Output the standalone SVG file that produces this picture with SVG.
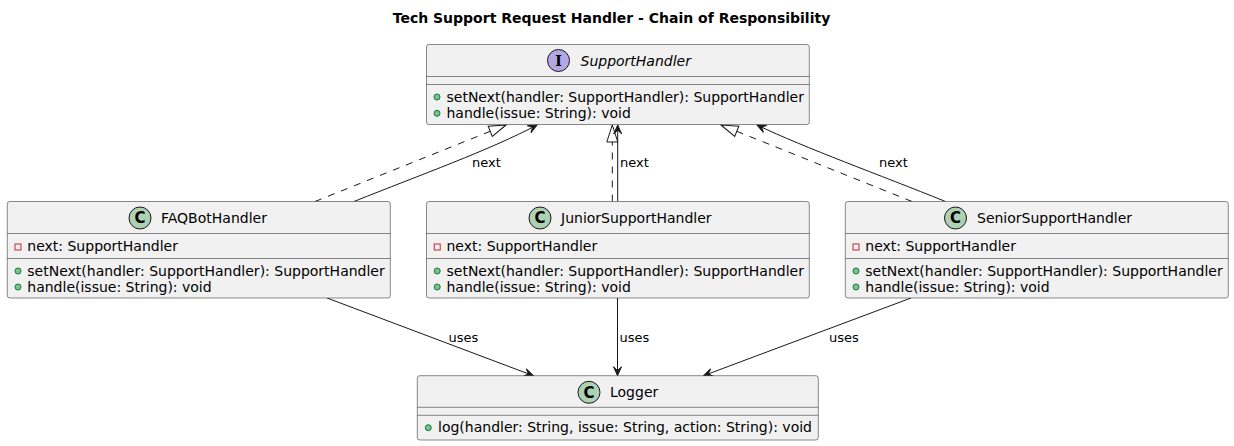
<svg xmlns="http://www.w3.org/2000/svg" width="1234" height="446" viewBox="0 0 1234 446">
<style>
.box{fill:#F1F1F1;stroke:#181818;stroke-width:0.5}
.sep{stroke:#181818;stroke-width:0.5}
text{font-family:"DejaVu Sans",sans-serif;fill:#000000}
.name{font-size:14px}
.ital{font-style:italic}
.mem{font-size:14px}
.lbl{font-size:13px}
.title{font-size:14px;font-weight:bold}
.cc{fill:#ADD1B2;stroke:#181818;stroke-width:1}
.ic{fill:#B4A7E5;stroke:#181818;stroke-width:1}
.glyph{font-size:15px;font-weight:bold;text-anchor:middle}
.pub{fill:#84BE84;stroke:#038048;stroke-width:1}
.priv{fill:none;stroke:#C82930;stroke-width:1}
.edge{fill:none;stroke:#181818;stroke-width:1}
.dash{stroke-dasharray:7,7}
</style>
<defs>
<marker id="arr" viewBox="-10 -5 11 10" refX="0" refY="0" markerWidth="11" markerHeight="10" orient="auto" markerUnits="userSpaceOnUse" overflow="visible">
<path d="M0,0 L-9,-4 L-5,0 L-9,4 Z" fill="#181818" stroke="#181818" stroke-width="1" stroke-dasharray="none"/>
</marker>
<marker id="tri" viewBox="-19 -7 20 14" refX="0" refY="0" markerWidth="20" markerHeight="14" orient="auto" markerUnits="userSpaceOnUse" overflow="visible">
<path d="M0,0 L-17,-5.5 L-17,5.5 Z" fill="#FFFFFF" stroke="#181818" stroke-width="1" stroke-dasharray="none"/>
</marker>
</defs>
<rect width="1234" height="446" fill="#FFFFFF"/>
<text class="title" x="611.5" y="23" text-anchor="middle">Tech Support Request Handler - Chain of Responsibility</text>

<g id="connectors">
<path class="edge dash" d="M315,201.5 L506,125" marker-end="url(#tri)"/>
<path class="edge" d="M354,201.5 C420,175 490,150 537,125" marker-end="url(#arr)"/>
<text class="lbl" x="472" y="167">next</text>
<path class="edge dash" d="M612.3,201.5 L612.3,125" marker-end="url(#tri)"/>
<path class="edge" d="M617.7,201.5 L617.7,125" marker-end="url(#arr)"/>
<text class="lbl" x="620" y="167">next</text>
<path class="edge dash" d="M912,201.5 L721,125" marker-end="url(#tri)"/>
<path class="edge" d="M945.5,201.5 C880,175 805,148 757,125" marker-end="url(#arr)"/>
<text class="lbl" x="879" y="167">next</text>
<path class="edge" d="M327,298 L533.3,375.7" marker-end="url(#arr)"/>
<text class="lbl" x="448.5" y="342">uses</text>
<path class="edge" d="M617.5,298 L617.5,375.7" marker-end="url(#arr)"/>
<text class="lbl" x="619.5" y="342">uses</text>
<path class="edge" d="M911,298 L703.5,375.7" marker-end="url(#arr)"/>
<text class="lbl" x="829" y="342">uses</text>
</g>

<g id="SupportHandler">
<rect class="box" x="426.5" y="44.5" width="382.8" height="80" rx="2.5"/>
<circle class="ic" cx="558.5" cy="60.5" r="11"/>
<text x="558.5" y="65.5" font-family="DejaVu Serif" style="font-family:'DejaVu Serif',serif;font-size:14px;font-weight:bold;text-anchor:middle">I</text>
<text class="name ital" x="580.5" y="65.5">SupportHandler</text>
<line class="sep" x1="426.5" y1="76.5" x2="809.3" y2="76.5"/>
<line class="sep" x1="426.5" y1="84.5" x2="809.3" y2="84.5"/>
<circle class="pub" cx="437" cy="97" r="3"/>
<text class="mem" x="446.5" y="101.5">setNext(handler: SupportHandler): SupportHandler</text>
<circle class="pub" cx="437" cy="113.3" r="3"/>
<text class="mem" x="446.5" y="117.8">handle(issue: String): void</text>
</g>

<g id="FAQBotHandler">
<rect class="box" x="7.3" y="201.5" width="383" height="96.5" rx="2.5"/>
<circle class="cc" cx="140" cy="218" r="11"/>
<text class="glyph" x="140" y="223.3">C</text>
<text class="name" x="161" y="223">FAQBotHandler</text>
<line class="sep" x1="7.3" y1="233.5" x2="390.3" y2="233.5"/>
<rect class="priv" x="15" y="244" width="6" height="6"/>
<text class="mem" x="27.3" y="251">next: SupportHandler</text>
<line class="sep" x1="7.3" y1="258.5" x2="390.3" y2="258.5"/>
<circle class="pub" cx="18" cy="271" r="3"/>
<text class="mem" x="27.3" y="275.5">setNext(handler: SupportHandler): SupportHandler</text>
<circle class="pub" cx="18" cy="287" r="3"/>
<text class="mem" x="27.3" y="291.5">handle(issue: String): void</text>
</g>

<g id="JuniorSupportHandler">
<rect class="box" x="426.5" y="201.5" width="382.8" height="96.5" rx="2.5"/>
<circle class="cc" cx="540" cy="218" r="11"/>
<text class="glyph" x="540" y="223.3">C</text>
<text class="name" x="561" y="223">JuniorSupportHandler</text>
<line class="sep" x1="426.5" y1="233.5" x2="809.3" y2="233.5"/>
<rect class="priv" x="434.2" y="244" width="6" height="6"/>
<text class="mem" x="446.5" y="251">next: SupportHandler</text>
<line class="sep" x1="426.5" y1="258.5" x2="809.3" y2="258.5"/>
<circle class="pub" cx="437.2" cy="271" r="3"/>
<text class="mem" x="446.5" y="275.5">setNext(handler: SupportHandler): SupportHandler</text>
<circle class="pub" cx="437.2" cy="287" r="3"/>
<text class="mem" x="446.5" y="291.5">handle(issue: String): void</text>
</g>

<g id="SeniorSupportHandler">
<rect class="box" x="845.3" y="201.5" width="383" height="96.5" rx="2.5"/>
<circle class="cc" cx="955.5" cy="218" r="11"/>
<text class="glyph" x="955.5" y="223.3">C</text>
<text class="name" x="977" y="223">SeniorSupportHandler</text>
<line class="sep" x1="845.3" y1="233.5" x2="1228.3" y2="233.5"/>
<rect class="priv" x="853" y="244" width="6" height="6"/>
<text class="mem" x="865.3" y="251">next: SupportHandler</text>
<line class="sep" x1="845.3" y1="258.5" x2="1228.3" y2="258.5"/>
<circle class="pub" cx="856" cy="271" r="3"/>
<text class="mem" x="865.3" y="275.5">setNext(handler: SupportHandler): SupportHandler</text>
<circle class="pub" cx="856" cy="287" r="3"/>
<text class="mem" x="865.3" y="291.5">handle(issue: String): void</text>
</g>

<g id="Logger">
<rect class="box" x="417.3" y="375.7" width="401" height="64.3" rx="2.5"/>
<circle class="cc" cx="589" cy="392.3" r="11"/>
<text class="glyph" x="589" y="397.6">C</text>
<text class="name" x="610" y="397.3">Logger</text>
<line class="sep" x1="417.3" y1="407.3" x2="818.3" y2="407.3"/>
<line class="sep" x1="417.3" y1="415.3" x2="818.3" y2="415.3"/>
<circle class="pub" cx="428.3" cy="427.7" r="3"/>
<text class="mem" x="438" y="432">log(handler: String, issue: String, action: String): void</text>
</g>
</svg>
